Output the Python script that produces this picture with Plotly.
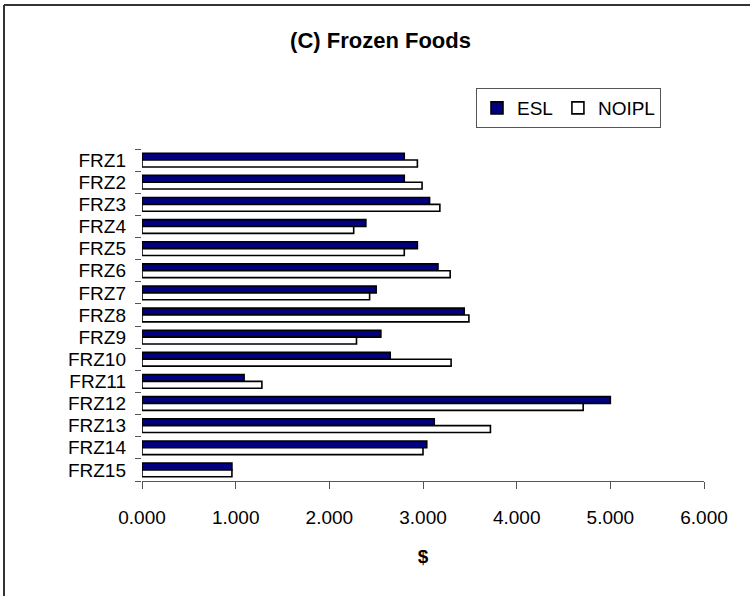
import plotly.graph_objects as go

categories = ["FRZ1", "FRZ2", "FRZ3", "FRZ4", "FRZ5", "FRZ6", "FRZ7", "FRZ8",
              "FRZ9", "FRZ10", "FRZ11", "FRZ12", "FRZ13", "FRZ14", "FRZ15"]
esl = [2.80, 2.80, 3.07, 2.39, 2.94, 3.16, 2.50, 3.44, 2.55, 2.65, 1.09, 5.00, 3.12, 3.04, 0.96]
noipl = [2.94, 2.99, 3.18, 2.26, 2.80, 3.29, 2.43, 3.49, 2.29, 3.30, 1.28, 4.71, 3.72, 3.00, 0.96]
x_ticks = [0, 1, 2, 3, 4, 5, 6]

W, H = 750, 596
L, R, T, B = 142, 704, 149, 481

FONT = "Liberation Sans, Arial, sans-serif"

fig = go.Figure()
fig.add_trace(go.Bar(y=categories, x=esl, orientation="h", name="ESL",
                     marker=dict(color="#000080", line=dict(color="black", width=1.6))))
fig.add_trace(go.Bar(y=categories, x=noipl, orientation="h", name="NOIPL",
                     marker=dict(color="white", line=dict(color="black", width=1.6))))

def px_x(p):
    return (p - L) / (R - L)

def px_y(p):
    return (B - p) / (B - T)

shapes = [
    dict(type="line", xref="paper", yref="paper", x0=px_x(4), x1=px_x(4), y0=px_y(5), y1=px_y(600),
         line=dict(color="#333333", width=2)),
    dict(type="line", xref="paper", yref="paper", x0=px_x(4), x1=px_x(760), y0=px_y(5), y1=px_y(5),
         line=dict(color="#333333", width=2)),
]

fig.update_layout(
    width=W, height=H,
    margin=dict(l=L, r=W - R, t=T, b=H - B),
    paper_bgcolor="white", plot_bgcolor="white",
    barmode="group", bargap=0.38, bargroupgap=0,
    font=dict(family=FONT, size=19, color="black"),
    title=dict(text="<b>(C) Frozen Foods</b>", x=(288 + 473) / 2 / W, xanchor="center",
               y=1 - 40 / H, yanchor="middle", font=dict(size=22)),
    showlegend=True,
    legend=dict(orientation="h", x=px_x(476), xanchor="left", y=px_y(88), yanchor="top",
                bordercolor="#555555", borderwidth=1, bgcolor="white",
                font=dict(size=19), itemwidth=30, traceorder="normal"),
    xaxis=dict(range=[0, 6], tickvals=x_ticks, tickformat=".3f", ticks="outside", ticklen=7,
               tickcolor="#555555", showline=True, linecolor="#555555", linewidth=1,
               showgrid=False, zeroline=False, tickfont=dict(size=19), ticklabelstandoff=12,
               title=dict(text="<b>$</b>", font=dict(size=19), standoff=22)),
    yaxis=dict(autorange="reversed", ticks="outside", tickson="boundaries", ticklen=6,
               tickmode="array", tickvals=categories, ticktext=categories,
               tickcolor="#555555", showline=False, showgrid=False, zeroline=False,
               tickfont=dict(size=19), ticklabelstandoff=15),
    shapes=shapes,
)

fig.write_html("out.html", config={"displayModeBar": False},
               post_script="document.body.style.margin='0';")
